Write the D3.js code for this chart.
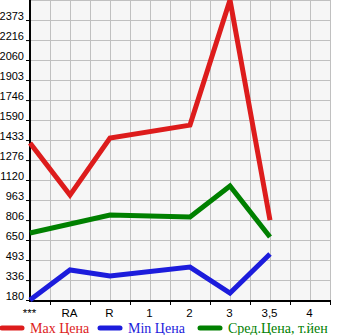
<!DOCTYPE html>
<html>
<head>
<meta charset="utf-8">
<script src="https://cdn.jsdelivr.net/npm/d3@7"></script>
<style>
  html, body { margin: 0; padding: 0; background: #fff; }
  svg { display: block; }
</style>
</head>
<body>
<svg id="chart"></svg>
<script>
const W = 345, H = 335;

// ── Data ──
const categories = ['***', 'RA', 'R', '1', '2', '3', '3,5', '4'];
const maxPrice   = [1410, 1002, 1449, null, 1550, 2530, 806, null];
const minPrice   = [180, 415, 368, null, 438, 235, 540, null];
const avgPrice   = [705, null, 846, null, 830, 1073, 673, null];
const yTicks     = [180, 336, 493, 650, 806, 963, 1120, 1276, 1433, 1590, 1746, 1903, 2060, 2216, 2373];

const series = [
    { name: 'Max Цена',          values: maxPrice, color: '#dd1c1c' },
    { name: 'Min Цена',          values: minPrice, color: '#1c1cdc' },
    { name: 'Сред.Цена, т.йен',  values: avgPrice, color: '#008000' }
];

const plot = { left: 30, right: 330, top: 0, bottom: 300 };

const svg = d3.select('#chart').attr('width', W).attr('height', H);

const x = d3.scalePoint().domain(categories).range([plot.left, plot.left + 280]);
const y = d3.scaleLinear().domain([180, 2530]).range([plot.bottom, plot.top]);
const step = x.step();

// background
svg.append('rect')
    .attr('x', plot.left).attr('y', plot.top)
    .attr('width', plot.right - plot.left).attr('height', plot.bottom - plot.top)
    .attr('fill', '#f6f6f6');

// grid
const grid = svg.append('g').attr('stroke', '#c0c0c0').attr('stroke-width', 1);
const vx = [];
categories.forEach(c => { vx.push(x(c)); vx.push(x(c) + step / 2); });
grid.selectAll('line.v').data(vx).join('line')
    .attr('x1', d => d + 0.5).attr('x2', d => d + 0.5)
    .attr('y1', plot.top).attr('y2', plot.bottom);
grid.selectAll('line.h').data(yTicks.concat([2530])).join('line')
    .attr('x1', plot.left).attr('x2', plot.right + 1)
    .attr('y1', d => Math.round(y(d)) + 0.5).attr('y2', d => Math.round(y(d)) + 0.5);

// y axis
const yAxis = svg.append('g')
    .attr('transform', `translate(${plot.left},0)`)
    .call(d3.axisLeft(y).tickValues(yTicks).tickFormat(d3.format('d')).tickSize(4).tickPadding(2));
yAxis.select('.domain').remove();
yAxis.selectAll('text')
    .attr('dy', '-0.05em')
    .attr('font-family', 'Liberation Sans, Arial, sans-serif')
    .attr('font-size', 11).attr('fill', '#000');
svg.append('line')
    .attr('x1', plot.left).attr('x2', plot.left)
    .attr('y1', plot.top).attr('y2', plot.bottom + 2)
    .attr('stroke', '#000').attr('stroke-width', 2);

// x axis
const xAxis = svg.append('g')
    .attr('transform', `translate(-1,${plot.bottom + 3})`)
    .call(d3.axisBottom(x).tickSize(0).tickPadding(5));
xAxis.select('.domain').remove();
xAxis.selectAll('text')
    .attr('dy', '0.75em')
    .attr('font-family', 'Liberation Sans, Arial, sans-serif')
    .attr('font-size', 11.5).attr('fill', '#000');
svg.append('g').selectAll('line').data(categories).join('line')
    .attr('x1', d => x(d) + step / 2 + 0.5).attr('x2', d => x(d) + step / 2 + 0.5)
    .attr('y1', plot.bottom + 1).attr('y2', plot.bottom + 5)
    .attr('stroke', '#000');
svg.append('line')
    .attr('x1', plot.left - 1).attr('x2', plot.right + 1)
    .attr('y1', plot.bottom + 1).attr('y2', plot.bottom + 1)
    .attr('stroke', '#000').attr('stroke-width', 2);

// clip + lines
svg.append('clipPath').attr('id', 'clip')
    .append('rect').attr('x', 0).attr('y', plot.top)
    .attr('width', W).attr('height', H);

const line = d3.line()
    .x(d => x(d.c))
    .y(d => y(d.v));

svg.append('g').attr('clip-path', 'url(#clip)')
    .selectAll('path')
    .data(series)
    .join('path')
    .attr('d', s => line(categories.map((c, i) => ({ c, v: s.values[i] })).filter(d => d.v != null)))
    .attr('fill', 'none')
    .attr('stroke', s => s.color)
    .attr('stroke-width', 5)
    .attr('stroke-linejoin', 'miter');

// legend
const legendX = [0, 98, 198];
const legend = svg.append('g').attr('transform', `translate(0,${plot.bottom + 28})`);
const item = legend.selectAll('g').data(series).join('g')
    .attr('transform', (d, i) => `translate(${legendX[i]},0)`);
item.append('line')
    .attr('x1', 2).attr('x2', 22).attr('y1', 0).attr('y2', 0)
    .attr('stroke', d => d.color).attr('stroke-width', 5)
    .attr('stroke-linecap', 'round');
item.append('text')
    .attr('x', 30).attr('y', 0).attr('dy', '0.35em')
    .attr('font-family', 'Liberation Serif, serif')
    .attr('font-size', 14)
    .attr('fill', d => d.color)
    .text(d => d.name);
</script>
</body>
</html>
